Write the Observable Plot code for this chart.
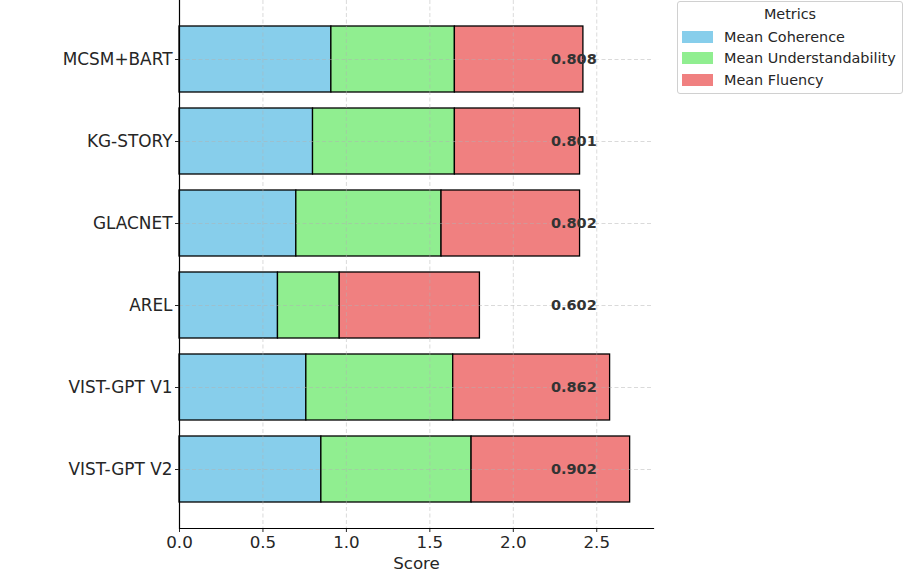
<!DOCTYPE html>
<html>
<head>
<meta charset="utf-8">
<script src="https://cdn.jsdelivr.net/npm/d3@7"></script>
<script src="https://cdn.jsdelivr.net/npm/@observablehq/plot@0.6"></script>
<style>
  body { margin: 0; background: #fff; font-family: "DejaVu Sans", sans-serif; }
  #wrap { position: relative; width: 913px; height: 584px; }
  #legend { position: absolute; left: 677px; top: 1px; width: 226px; height: 93px;
    border: 1px solid #d0d0d0; border-radius: 3px; background: #fff; box-sizing: border-box;
    font-family: "DejaVu Sans", sans-serif; font-size: 14.4px; color: #262626; }
  #legend .title { text-align: center; margin-top: 4px; height: 20px; }
  #legend .row { display: flex; align-items: center; height: 21.5px; }
  #legend .sw { width: 31px; height: 12px; margin-left: 4px; margin-right: 11px; }
</style>
</head>
<body>
<div id="wrap"><div id="chart"></div><div id="legend"></div></div>
<script>
const models = ["MCSM+BART", "KG-STORY", "GLACNET", "AREL", "VIST-GPT V1", "VIST-GPT V2"];
const metrics = ["Mean Coherence", "Mean Understandability", "Mean Fluency"];
const colors = ["#87CEEB", "#90EE90", "#F08080"];
const coherence = [0.91, 0.80, 0.70, 0.59, 0.76, 0.85];
const understandability = [0.74, 0.85, 0.87, 0.37, 0.88, 0.90];
const fluency = [0.77, 0.75, 0.83, 0.84, 0.94, 0.95];
const labels = ["0.808", "0.801", "0.802", "0.602", "0.862", "0.902"];
const xTicks = [0, 0.5, 1.0, 1.5, 2.0, 2.5];

const series = [coherence, understandability, fluency];
const data = [];
metrics.forEach((m, j) => models.forEach((mod, i) => data.push({model: mod, metric: m, value: series[j][i]})));
const labelData = models.map((m, i) => ({model: m, label: labels[i]}));

const chart = Plot.plot({
  width: 913, height: 584,
  marginLeft: 179, marginRight: 260, marginTop: 0, marginBottom: 56,
  style: {fontFamily: "DejaVu Sans, sans-serif", fontSize: "16.7px", color: "#262626"},
  x: {domain: [0, 2.84], ticks: xTicks, tickFormat: d3.format(".1f"), label: null},
  y: {domain: models, paddingInner: 0.2, paddingOuter: 0.3, label: null},
  color: {domain: metrics, range: colors},
  marks: [
    Plot.barX(data, Plot.stackX({y: "model", x: "value", fill: "metric", stroke: "black", strokeWidth: 1.3})),
    Plot.gridX(xTicks, {stroke: "#b0b0b0", strokeOpacity: 0.6, strokeDasharray: "4,2.5", strokeWidth: 0.8}),
    Plot.gridY({stroke: "#b0b0b0", strokeOpacity: 0.6, strokeDasharray: "4,2.5", strokeWidth: 0.8}),
    Plot.text(labelData, {y: "model", x: () => 2.5, text: "label", textAnchor: "end", fontWeight: "bold", fontSize: 14.5, fill: "#333"}),
    Plot.axisX({ticks: xTicks, tickFormat: d3.format(".1f"), tickSize: 4, tickPadding: 4, fontSize: 16.7, label: null}),
    Plot.axisY({tickSize: 4, tickPadding: 3, fontSize: 16.9, label: null}),
    Plot.ruleX([0], {stroke: "black", strokeWidth: 1.2}),
    Plot.frame({anchor: "bottom", stroke: "black", strokeWidth: 1.2}),
    Plot.text(["Score"], {frameAnchor: "bottom", dy: 40, fontSize: 16.7, fill: "#262626"})
  ]
});
document.getElementById("chart").appendChild(chart);

const leg = document.getElementById("legend");
const t = document.createElement("div"); t.className = "title"; t.textContent = "Metrics"; leg.appendChild(t);
metrics.forEach((m, i) => {
  const r = document.createElement("div"); r.className = "row";
  const s = document.createElement("div"); s.className = "sw"; s.style.background = colors[i];
  const l = document.createElement("span"); l.textContent = m;
  r.appendChild(s); r.appendChild(l); leg.appendChild(r);
});
</script>
</body>
</html>
